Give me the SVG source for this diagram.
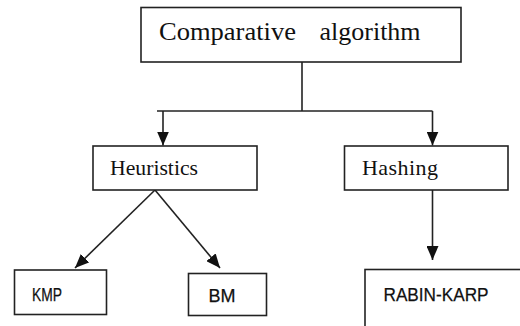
<svg xmlns="http://www.w3.org/2000/svg" width="520" height="326" viewBox="0 0 520 326">
<style>
.box{fill:#fff;stroke:#222;stroke-width:1.6}
.serif{font-family:"Liberation Serif","Times New Roman",serif;fill:#111}
.sans{font-family:"Liberation Sans",Arial,sans-serif;fill:#111;stroke:#111;stroke-width:0.25}
.conn{stroke:#222;stroke-width:1.6;fill:none}
</style>
<defs>
<marker id="arr" viewBox="0 0 14 12" refX="14" refY="6" markerWidth="14" markerHeight="12" markerUnits="userSpaceOnUse" orient="auto">
<path d="M0,0 L14,6 L0,12 Z" fill="#111"/>
</marker>
</defs>
<rect width="520" height="326" fill="#fff"/>
<g id="connectors">
<line class="conn" x1="302" y1="62" x2="302" y2="111"/>
<line class="conn" x1="157" y1="111" x2="432.5" y2="111"/>
<line class="conn" x1="163" y1="111" x2="163" y2="145.5" marker-end="url(#arr)"/>
<line class="conn" x1="432.5" y1="111" x2="432.5" y2="145.5" marker-end="url(#arr)"/>
<line class="conn" x1="155" y1="190" x2="75" y2="268" marker-end="url(#arr)"/>
<line class="conn" x1="155" y1="190" x2="220" y2="268" marker-end="url(#arr)"/>
<line class="conn" x1="432.5" y1="190" x2="432.5" y2="260" marker-end="url(#arr)"/>
</g>
<g id="node-comparative">
<rect class="box" x="141" y="7.5" width="320" height="54.5"/>
<text class="serif" font-size="26" y="40"><tspan x="159" textLength="137" lengthAdjust="spacingAndGlyphs">Comparative</tspan><tspan x="319.5">algorithm</tspan></text>
</g>
<g id="node-heuristics">
<rect class="box" x="93" y="146" width="164" height="44"/>
<text class="serif" font-size="22" x="110" y="175" textLength="88" lengthAdjust="spacingAndGlyphs">Heuristics</text>
</g>
<g id="node-hashing">
<rect class="box" x="344.5" y="146" width="163.5" height="44"/>
<text class="serif" font-size="22" x="362" y="175" textLength="76" lengthAdjust="spacing">Hashing</text>
</g>
<g id="node-kmp">
<rect class="box" x="14.5" y="270" width="92" height="44.5"/>
<text class="sans" font-size="18" x="32" y="301" textLength="30" lengthAdjust="spacingAndGlyphs">KMP</text>
</g>
<g id="node-bm">
<rect class="box" x="188.5" y="273.5" width="78" height="42"/>
<text class="sans" font-size="18" x="208.5" y="301.5" textLength="27" lengthAdjust="spacingAndGlyphs">BM</text>
</g>
<g id="node-rabin-karp">
<rect class="box" x="365" y="269.5" width="170" height="80"/>
<text class="sans" font-size="18" x="383.5" y="300.5" textLength="105" lengthAdjust="spacingAndGlyphs">RABIN-KARP</text>
</g>
</svg>
